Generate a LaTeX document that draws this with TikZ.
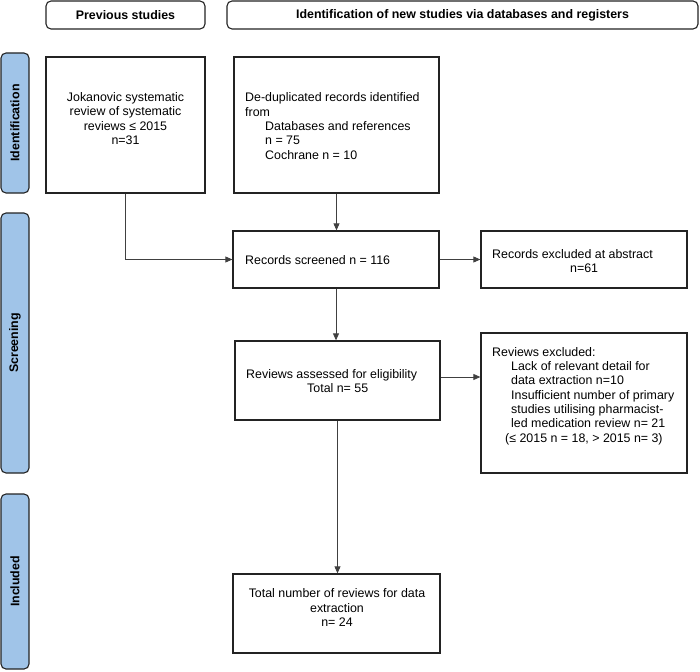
\documentclass[tikz,border=0pt]{standalone}
\usepackage{fontspec}
\setmainfont{Liberation Sans}
\usetikzlibrary{arrows.meta}
\definecolor{sideblue}{RGB}{160,196,232}
\definecolor{boxline}{RGB}{35,35,35}
\newcommand\pfs{\fontsize{12.4pt}{14.3pt}\selectfont}
\begin{document}
\begin{tikzpicture}[x=1pt,y=-1pt,
  box/.style={draw=boxline, line width=1.3pt, fill=white, inner sep=0pt},
  hdr/.style={draw=boxline, line width=1.1pt, rounded corners=5pt, fill=white, font=\pfs\bfseries, inner sep=0pt},
  side/.style={draw=boxline, line width=1.1pt, fill=sideblue, rounded corners=5pt, font=\pfs\bfseries, inner sep=0pt, rotate=90},
  txt/.style={font=\pfs, inner sep=0pt},
  arr/.style={draw=black!75, line width=0.8pt, -{Triangle[length=7pt,width=6pt]}}
]
\useasboundingbox (0,0) rectangle (700,671);

% headers
\node[hdr, minimum width=159pt, minimum height=28pt] (h1) at (125.5,15) {Previous studies};
\node[hdr, minimum width=471pt, minimum height=28pt] (h2) at (462.5,15) {Identification of new studies via databases and registers};

% side bars
\node[side, minimum width=140pt, minimum height=28pt] (sI) at (15,123) {Identification};
\node[side, minimum width=260pt, minimum height=28pt] (sS) at (15,343) {Screening};
\node[side, minimum width=175pt, minimum height=28pt] (sC) at (15,581.5) {Included};

% boxes
\node[box, minimum width=159pt, minimum height=136pt] (jok) at (125.5,125) {};
\node[box, minimum width=205pt, minimum height=136pt] (dedup) at (336.5,125) {};
\node[box, minimum width=206pt, minimum height=57pt] (scr) at (336,259.5) {};
\node[box, minimum width=206pt, minimum height=57pt] (ex1) at (584,259.5) {};
\node[box, minimum width=205pt, minimum height=79pt] (ass) at (337.5,380.5) {};
\node[box, minimum width=206pt, minimum height=140pt] (ex2) at (584,403) {};
\node[box, minimum width=207pt, minimum height=79pt] (tot) at (336.5,613.5) {};

% texts
\node[txt, align=center] (jokT) at (125.5,118.5) {Jokanovic systematic\\review of systematic\\reviews ≤ 2015\\n=31};
\node[txt, align=left, anchor=west] (dedupT) at (245,126) {De-duplicated records identified\\from\\\hspace*{20pt}Databases and references\\\hspace*{20pt}n = 75\\\hspace*{20pt}Cochrane n = 10};
\node[txt, anchor=west] (scrT) at (245,260) {Records screened n = 116};
\node[txt, align=left, anchor=west] (ex1T) at (492,261) {Records excluded at abstract\\\hspace*{78pt}n=61};
\node[txt, align=left, anchor=west] (assT) at (246,381) {Reviews assessed for eligibility\\\hspace*{61pt}Total n= 55};
\node[txt, align=left, anchor=west] (ex2T) at (492,396) {Reviews excluded:\\\hspace*{19pt}Lack of relevant detail for\\\hspace*{19pt}data extraction n=10\\\hspace*{19pt}Insufficient number of primary\\\hspace*{19pt}studies utilising pharmacist-\\\hspace*{19pt}led medication review n= 21\\\hspace*{13pt}(≤ 2015 n = 18, > 2015 n= 3)};
\node[txt, align=center] (totT) at (337,607.5) {Total number of reviews for data\\extraction\\n= 24};

% connectors
\draw[arr] (jok.south) |- (scr.west);
\draw[arr] (dedup.south) -- (dedup.south |- scr.north);
\draw[arr] (scr.east) -- (ex1.west);
\draw[arr] (scr.south) -- (scr.south |- ass.north);
\draw[arr] ([yshift=3.5pt]ass.east) -- ([yshift=3.5pt]ass.east -| ex2.west);
\draw[arr] (ass.south) -- (ass.south |- tot.north);
\end{tikzpicture}
\end{document}
